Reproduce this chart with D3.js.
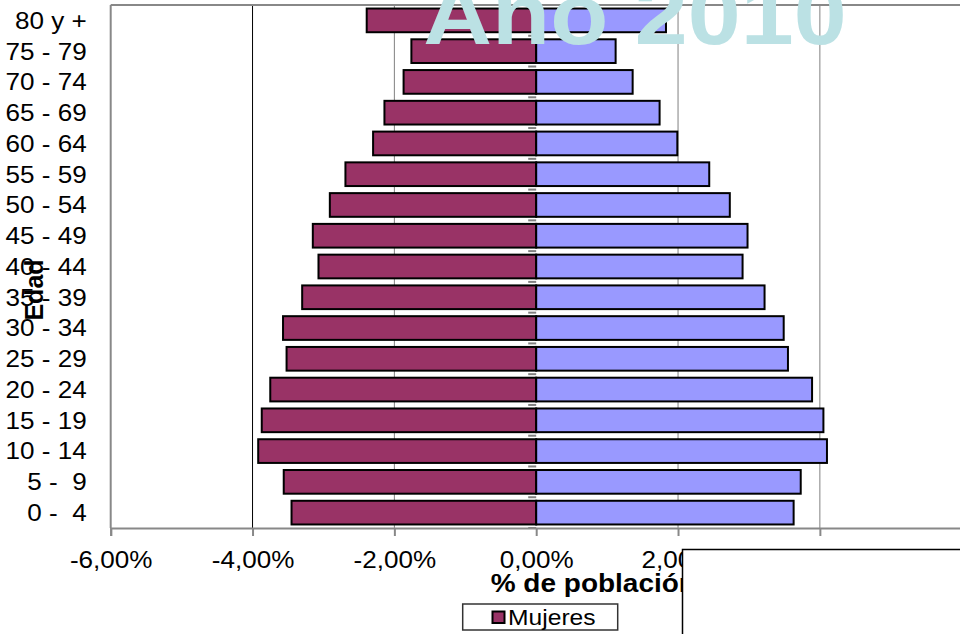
<!DOCTYPE html>
<meta charset="utf-8">
<style>
  body { margin: 0; background: #fff; }
  text { font-family: "Liberation Sans", Arial, sans-serif; }
  .ylab text { white-space: pre; }
</style>
<svg width="960" height="634"></svg>
<script src="https://cdnjs.cloudflare.com/ajax/libs/d3/7.8.5/d3.min.js"></script>
<script>

var edades = ["80 y +", "75 - 79", "70 - 74", "65 - 69", "60 - 64", "55 - 59", "50 - 54",
              "45 - 49", "40 - 44", "35 - 39", "30 - 34", "25 - 29", "20 - 24", "15 - 19",
              "10 - 14", "5 -  9", "0 -  4"];
// % de poblacion, mismo orden que edades
var mujeres = [2.39, 1.76, 1.87, 2.14, 2.30, 2.69, 2.91, 3.15, 3.07, 3.30,
               3.57, 3.52, 3.75, 3.87, 3.92, 3.56, 3.45];
var hombres = [1.83, 1.12, 1.36, 1.74, 1.99, 2.44, 2.73, 2.98, 2.91, 3.22,
               3.49, 3.55, 3.89, 4.05, 4.10, 3.73, 3.63];
var xTicks = [-6, -4, -2, 0, 2, 4, 6];
var titulo = "Año 2010";

var svg = d3.select("svg"),
    stretch = "scale(1.12,1)";

var plotTop = 5, plotBottom = 528;
var x = d3.scaleLinear().domain([-6, 6]).range([110.7, 961.7]);
var y = d3.scaleBand().domain(edades).range([plotTop, plotBottom]).paddingInner(0.23).paddingOuter(0.115);

var es = d3.formatLocale({decimal: ",", thousands: ".", grouping: [3], currency: ["", "€"], minus: "-"});
var fmt = function(d) { return es.format(".2f")(d) + "%"; };

// grid
svg.append("g").selectAll("line")
    .data(xTicks.filter(function(d) { return d !== 0 && d !== -6 && d !== 6; }))
  .enter().append("line")
    .attr("x1", function(d) { return x(d); })
    .attr("x2", function(d) { return x(d); })
    .attr("y1", plotTop).attr("y2", plotBottom)
    .attr("stroke", function(d) { return d === -4 ? "#000" : "#808080"; })
    .attr("stroke-width", 1);

// plot frame (top + left)
svg.append("line").attr("x1", x(-6)).attr("x2", 960).attr("y1", plotTop).attr("y2", plotTop)
    .attr("stroke", "#888").attr("stroke-width", 2);
svg.append("line").attr("x1", x(-6)).attr("x2", x(-6)).attr("y1", plotTop).attr("y2", plotBottom)
    .attr("stroke", "#888").attr("stroke-width", 2);

// bars
var bh = y.bandwidth();
svg.append("g").selectAll("rect")
    .data(mujeres)
  .enter().append("rect")
    .attr("x", function(d) { return x(-d); })
    .attr("y", function(d, i) { return y(edades[i]); })
    .attr("width", function(d) { return x(0) - x(-d); })
    .attr("height", bh)
    .attr("fill", "#993366")
    .attr("stroke", "#000")
    .attr("stroke-width", 2);

svg.append("g").selectAll("rect")
    .data(hombres)
  .enter().append("rect")
    .attr("x", x(0))
    .attr("y", function(d, i) { return y(edades[i]); })
    .attr("width", function(d) { return x(d) - x(0); })
    .attr("height", bh)
    .attr("fill", "#9999FF")
    .attr("stroke", "#000")
    .attr("stroke-width", 2);

// category tick marks on the zero line
var step = y.step();
svg.append("g").selectAll("line")
    .data(d3.range(edades.length + 1))
  .enter().append("line")
    .attr("x1", x(0) - 8).attr("x2", x(0))
    .attr("y1", function(i) { return plotTop + i * step; })
    .attr("y2", function(i) { return plotTop + i * step; })
    .attr("stroke", "#808080").attr("stroke-width", 2);

// x axis
var xAxis = svg.append("g")
    .attr("transform", "translate(0," + plotBottom + ")")
    .call(d3.axisBottom(x).tickValues(xTicks).tickFormat(fmt).tickSize(8).tickPadding(15.5));
xAxis.select(".domain").attr("stroke", "#888").attr("stroke-width", 2);
xAxis.selectAll(".tick line").attr("stroke", "#888").attr("stroke-width", 2);
xAxis.selectAll("text")
    .attr("font-family", "Liberation Sans, Arial, sans-serif")
    .attr("font-size", 23.3)
    .attr("fill", "#000")
    .attr("transform", stretch);

// y axis labels
var yAxis = svg.append("g")
    .attr("class", "ylab")
    .attr("transform", "translate(86.7,0)")
    .call(d3.axisLeft(y).tickSize(0).tickPadding(0));
yAxis.select(".domain").remove();
yAxis.selectAll("text")
    .attr("font-family", "Liberation Sans, Arial, sans-serif")
    .attr("font-size", 23.3)
    .attr("fill", "#000")
    .attr("dy", "0.36em")
    .attr("transform", stretch);

// axis titles
svg.append("text")
    .attr("transform", "translate(43,290) rotate(-90)")
    .attr("text-anchor", "middle")
    .attr("font-size", 25)
    .attr("font-weight", "bold")
    .text("Edad");

svg.append("text")
    .attr("transform", "translate(490.7,591.5) " + stretch)
    .attr("font-size", 25)
    .attr("font-weight", "bold")
    .text("% de población");

// title
svg.append("text")
    .attr("transform", "translate(635,44) " + stretch)
    .attr("text-anchor", "middle")
    .attr("font-size", 85)
    .attr("font-weight", "bold")
    .attr("fill", "#BBE1E4")
    .text(titulo);

// legend
var leg = svg.append("g");
leg.append("rect")
    .attr("x", 462.7).attr("y", 604).attr("width", 155).attr("height", 26)
    .attr("fill", "#fff").attr("stroke", "#333").attr("stroke-width", 1.5);
leg.append("rect")
    .attr("x", 492.5).attr("y", 611.5).attr("width", 12).attr("height", 11.5)
    .attr("fill", "#993366").attr("stroke", "#000").attr("stroke-width", 2);
leg.append("text")
    .attr("transform", "translate(508,625) " + stretch)
    .attr("font-size", 22)
    .text("Mujeres");

// white box covering the lower right corner
svg.append("rect")
    .attr("x", 682.5).attr("y", 549.5).attr("width", 320).attr("height", 120)
    .attr("fill", "#fff").attr("stroke", "#000").attr("stroke-width", 1.5);

</script>
